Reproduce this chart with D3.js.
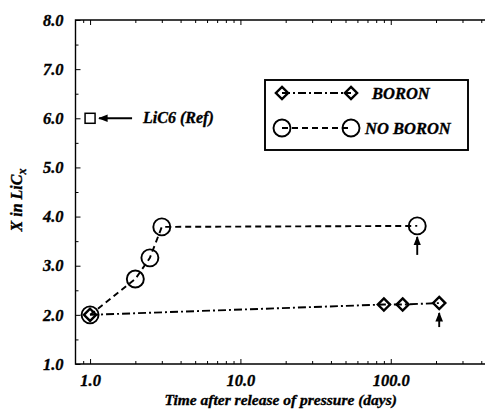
<!DOCTYPE html>
<html>
<head>
<meta charset="utf-8">
<script src="https://cdn.jsdelivr.net/npm/d3@7"></script>
<style>
  body { margin: 0; background: #fff; }
  text { font-family: "Liberation Serif", "DejaVu Serif", serif; font-weight: bold; font-style: italic; fill: #000; stroke: #000; stroke-width: 0.35px; }
</style>
</head>
<body>
<svg id="chart" width="485" height="413"></svg>
<script>
// data
const boronDays = [1, 90, 120, 210];
const boronX = [2.0, 2.21, 2.21, 2.24];
const noBoronDays = [1, 2, 2.5, 3, 150];
const noBoronX = [2.0, 2.73, 3.16, 3.79, 3.81];
const refDays = [1];
const refX = [6.0];
const refLabel = "LiC6 (Ref)";
const yTickValues = [1, 2, 3, 4, 5, 6, 7, 8];
const xTickValues = [1, 10, 100];
const seriesNames = ["BORON", "NO BORON"];

const svg = d3.select("#chart");
const plotLeft = 75.5, plotRight = 486, plotTop = 20, plotBottom = 364;

const xScale = d3.scaleLog().domain([0.8, 430]).range([plotLeft, plotRight]);
const yScale = d3.scaleLinear().domain([1, 8]).range([plotBottom, plotTop]);

// minor tick values
let xMinor = [];
[0.1, 1, 10, 100].forEach(d => {
    for (let k = 2; k < 10; k++) {
        const v = d * k;
        if (v > 0.8 && v < 430) xMinor.push(v);
    }
});
const yMinor = d3.range(1.5, 8, 1);

// frame
svg.append("path")
    .attr("d", `M${plotRight},${plotTop}H${plotLeft}V${plotBottom}H${plotRight}`)
    .attr("fill", "none").attr("stroke", "#000").attr("stroke-width", 1.4);

// x axis bottom
const gx = svg.append("g").attr("transform", `translate(0,${plotBottom})`);
gx.call(d3.axisBottom(xScale).tickValues(xTickValues).tickSize(-5).tickPadding(10)
    .tickFormat(d3.format(".1f")));
gx.append("g").call(d3.axisBottom(xScale).tickValues(xMinor).tickSize(-3).tickFormat(""));
// x axis top
const gxt = svg.append("g").attr("transform", `translate(0,${plotTop})`);
gxt.call(d3.axisTop(xScale).tickValues(xTickValues).tickSize(-5).tickFormat(""));
gxt.append("g").call(d3.axisTop(xScale).tickValues(xMinor).tickSize(-3).tickFormat(""));

// y axis
const gy = svg.append("g").attr("transform", `translate(${plotLeft},0)`);
gy.call(d3.axisLeft(yScale).tickValues(yTickValues).tickSize(-5).tickPadding(12)
    .tickFormat(d3.format(".1f")));
gy.append("g").call(d3.axisLeft(yScale).tickValues(yMinor).tickSize(-3).tickFormat(""));

svg.selectAll(".domain").remove();
svg.selectAll(".tick line").attr("stroke", "#000").attr("stroke-width", 1);
svg.selectAll(".tick text").style("font-size", "16.5px")
    .style("font-family", "'Liberation Serif', serif").style("font-weight", "bold").style("font-style", "italic");

// axis titles
svg.append("text")
    .attr("x", (plotLeft + plotRight) / 2).attr("y", 405)
    .attr("text-anchor", "middle").style("font-size", "15.5px")
    .text("Time after release of pressure (days)");

const yt = svg.append("text")
    .attr("transform", `translate(22,200) rotate(-90)`)
    .attr("text-anchor", "middle").style("font-size", "16px");
yt.append("tspan").text("X in LiC");
yt.append("tspan").attr("dy", 4).style("font-size", "12px").text("x");

// lines
const boron = boronDays.map((d, i) => [d, boronX[i]]);
const noBoron = noBoronDays.map((d, i) => [d, noBoronX[i]]);
const line = d3.line().x(d => xScale(d[0])).y(d => yScale(d[1]));

svg.append("path").datum(boron).attr("d", line)
    .attr("fill", "none").attr("stroke", "#000").attr("stroke-width", 1.9)
    .attr("stroke-dasharray", "8,3,2,3");
svg.append("path").datum(noBoron).attr("d", line)
    .attr("fill", "none").attr("stroke", "#000").attr("stroke-width", 1.9)
    .attr("stroke-dasharray", "6,4");

const diamond = d3.symbol().type(d3.symbolDiamond2).size(95);

svg.selectAll(".nb").data(noBoron).enter().append("circle")
    .attr("cx", d => xScale(d[0])).attr("cy", d => yScale(d[1])).attr("r", 8.5)
    .attr("fill", "none").attr("stroke", "#000").attr("stroke-width", 1.9);
svg.selectAll(".b").data(boron).enter().append("path")
    .attr("d", diamond)
    .attr("transform", d => `translate(${xScale(d[0])},${yScale(d[1])})`)
    .attr("fill", "none").attr("stroke", "#000").attr("stroke-width", 2.4);

// reference point
const rx = xScale(refDays[0]), ry = yScale(refX[0]);
svg.append("rect").attr("x", rx - 5).attr("y", ry - 5).attr("width", 10).attr("height", 10)
    .attr("fill", "none").attr("stroke", "#000").attr("stroke-width", 1.5);

// arrow markers
svg.append("defs").append("marker")
    .attr("id", "head").attr("viewBox", "0 0 10 10").attr("refX", 9).attr("refY", 5)
    .attr("markerWidth", 5).attr("markerHeight", 5).attr("orient", "auto-start-reverse")
    .append("path").attr("d", "M0,1L10,5L0,9Z").attr("fill", "#000");

function arrow(x1, y1, x2, y2) {
    svg.append("line").attr("x1", x1).attr("y1", y1).attr("x2", x2).attr("y2", y2)
        .attr("stroke", "#000").attr("stroke-width", 1.9).attr("marker-end", "url(#head)");
}
arrow(rx + 42, ry, rx + 9, ry);
svg.append("text").attr("x", rx + 53).attr("y", ry + 5).style("font-size", "16px").text(refLabel);

const lastNo = noBoron[noBoron.length - 1];
arrow(xScale(lastNo[0]), yScale(lastNo[1]) + 29, xScale(lastNo[0]), yScale(lastNo[1]) + 11);
const lastB = boron[boron.length - 1];
arrow(xScale(lastB[0]), yScale(lastB[1]) + 24, xScale(lastB[0]), yScale(lastB[1]) + 10);

// legend
const lg = svg.append("g");
lg.append("rect").attr("x", 265).attr("y", 80).attr("width", 203).attr("height", 70)
    .attr("fill", "#fff").attr("stroke", "#000").attr("stroke-width", 1.9);
const rows = [93, 128];
lg.append("line").attr("x1", 282).attr("x2", 351).attr("y1", rows[0]).attr("y2", rows[0])
    .attr("stroke", "#000").attr("stroke-width", 1.9).attr("stroke-dasharray", "8,3,2,3");
lg.selectAll(".ld").data([282, 351]).enter().append("path").attr("d", diamond)
    .attr("transform", d => `translate(${d},${rows[0]})`)
    .attr("fill", "none").attr("stroke", "#000").attr("stroke-width", 2.4);
lg.append("line").attr("x1", 282).attr("x2", 351).attr("y1", rows[1]).attr("y2", rows[1])
    .attr("stroke", "#000").attr("stroke-width", 1.9).attr("stroke-dasharray", "6,4");
lg.selectAll(".lc").data([282, 351]).enter().append("circle")
    .attr("cx", d => d).attr("cy", rows[1]).attr("r", 8.5)
    .attr("fill", "none").attr("stroke", "#000").attr("stroke-width", 1.9);
lg.append("text").attr("x", 372).attr("y", rows[0] + 5.5).style("font-size", "16.5px").text(seriesNames[0]);
lg.append("text").attr("x", 365).attr("y", rows[1] + 5.5).style("font-size", "16.5px").text(seriesNames[1]);
</script>
</body>
</html>
